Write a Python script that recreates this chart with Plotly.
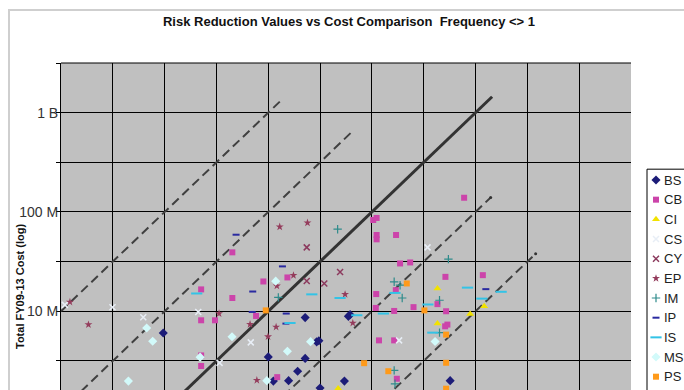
import plotly.graph_objects as go

# ---- data (values in $M) ----
series_names = ["BS", "CB", "CI", "CS", "CY", "EP", "IM", "IP", "IS", "MS", "PS"]

bs_x = [0.97, 22.7, 29.3, 30.8, 59.3, 61.6, 10.0, 22.7, 19.2, 11.2, 15.7, 31.6, 54.3, 569]
bs_y = [6.04, 8.63, 4.92, 5.05, 8.89, 9.24, 3.47, 3.35, 2.49, 1.98, 2.0, 1.69, 1.98, 2.0]

cb_x = [4.50, 15.3, 8.97, 4.50, 2.25, 2.25, 3.06, 7.62, 2.25, 2.25, 12.2, 776, 103, 111, 111, 111,
        171, 187, 234, 512, 1176, 170, 110, 109, 164, 252, 429, 520, 535, 509, 117, 164, 174]
cb_y = [39.2, 21.9, 19.95, 13.6, 16.6, 8.11, 8.11, 8.97, 3.59, 2.81, 2.17, 139, 83, 87, 58.6, 53,
        58.6, 30.3, 31, 22.2, 23.1, 16.3, 14.9, 10.8, 10.07, 11.0, 11.8, 10.0, 7.34, 7.05, 5.09, 5.09, 2.09]

ci_x = [47.2, 429, 1211, 887, 429]
ci_y = [1.67, 16.9, 11.2, 9.4, 7.51]

cs_x = [0.314, 0.622, 2.11, 6.78, 3.39, 344, 183, 0.109]
cs_y = [10.96, 8.7, 9.84, 4.86, 3.02, 44, 5.09, 11.6]

cy_x = [23.5, 23.5, 34.7, 49.3]
cy_y = [44, 20.2, 19.05, 24.9]

ep_x = [0.122, 0.184, 12.9, 23.9, 17.5, 12.1, 3.35, 6.67, 11.9, 9.95, 7.76, 55.1, 65.4]
ep_y = [12.4, 7.34, 70.9, 77.8, 23.0, 18.0, 9.48, 7.39, 6.94, 5.55, 2.02, 14.8, 7.62]

im_x = [46.7, 12.5, 547, 164, 187, 196, 449, 449, 164, 167]
im_y = [67.0, 13.8, 33.5, 19.8, 18.3, 13.6, 12.9, 6.09, 2.54, 1.86]

ip_x = [4.89, 13.7, 7.08, 7.0, 14.9, 14.8, 1257]
ip_y = [59, 28.3, 15.8, 9.84, 9.48, 7.51, 16.7]

is_x = [2.04, 26.3, 49.3, 16.2, 167, 836, 1766, 1151, 347, 129, 71.5, 387]
is_y = [15.1, 14.8, 13.6, 7.62, 15.3, 17.3, 15.7, 13.4, 11.7, 9.48, 9.12, 6.09]

ms_x = [0.671, 0.767, 0.447, 11.8, 4.47, 25.6, 15.3, 2.20, 9.68, 407]
ms_y = [6.78, 4.98, 1.98, 20.1, 5.53, 4.94, 3.96, 3.45, 2.0, 4.96]

ps_x = [9.46, 217, 321, 520, 84.1, 520, 144, 520]
ps_y = [10.2, 19.05, 10.2, 5.82, 3.0, 3.03, 2.49, 1.66]

# reference lines: cost = factor * risk reduction value
line_factors = [100, 10, 1, 0.1, 0.01]
line_x_start = [0.1, 0.1, 0.1, 0.1, 0.1]
line_x_end = [13.9, 64.4, 1445, 1400, 3800]

y_tick_vals = [3.1623, 10, 31.623, 100, 316.23, 1000, 3162.3]
y_tick_text = ["", "10 M", "", "100 M", "", "1 B", ""]
x_grid_vals = [0.1, 0.31623, 1, 3.1623, 10, 31.623, 100, 316.23, 1000, 3162.3, 10000]

# ---- styles ----
styles = {
    "BS": dict(symbol="diamond", color="#1c1c78", size=7),
    "CB": dict(symbol="square", color="#cc44aa", size=6),
    "CI": dict(symbol="triangle-up", color="#f2e200", size=7),
    "CS": dict(symbol="x-thin-open", color="#e8eef6", size=6, lw=1.5),
    "CY": dict(symbol="x-thin-open", color="#8c3a5e", size=6, lw=1.5),
    "EP": dict(symbol="star", color="#943c5c", size=6),
    "IM": dict(symbol="cross-thin-open", color="#2e8b8b", size=6, lw=1.2),
    "IP": dict(symbol="line-ew-open", color="#2a2aa0", size=5, lw=2),
    "IS": dict(symbol="line-ew-open", color="#33c3e6", size=8, lw=2),
    "MS": dict(symbol="diamond", color="#d2fafa", size=7),
    "PS": dict(symbol="square", color="#ff9a1a", size=6),
}
data = {
    "BS": (bs_x, bs_y), "CB": (cb_x, cb_y), "CI": (ci_x, ci_y), "CS": (cs_x, cs_y),
    "CY": (cy_x, cy_y), "EP": (ep_x, ep_y), "IM": (im_x, im_y), "IP": (ip_x, ip_y),
    "IS": (is_x, is_y), "MS": (ms_x, ms_y), "PS": (ps_x, ps_y),
}

def marker_of(st):
    m = dict(symbol=st["symbol"], size=st["size"], color=st["color"])
    if "lw" in st:
        m["line"] = dict(color=st["color"], width=st["lw"])
    else:
        m["line"] = dict(width=0)
    return m

fig = go.Figure()

# reference lines
for f, xs, xe in zip(line_factors, line_x_start, line_x_end):
    solid = (f == 1)
    fig.add_trace(go.Scatter(
        x=[xs, xe], y=[xs * f, xe * f],
        mode="lines" if f >= 1 else "lines+markers",
        line=dict(color="#333333" if solid else "#404040", width=3 if solid else 2,
                  dash="solid" if solid else "9px,5px"),
        marker=dict(size=3, color="#333333"),
        showlegend=False, hoverinfo="skip",
    ))

# series
for name in series_names:
    xs, ys = data[name]
    fig.add_trace(go.Scatter(x=xs, y=ys, mode="markers", name=name,
                             marker=marker_of(styles[name]), showlegend=False))

# figure fills the whole window (page margin removed in post_script)
W, H = 684, 390
L, T = 61, 63
main_w = 570
paper_w = W - L

# hand-drawn legend on an auxiliary axis (x in figure pixels, y in entry index)
leg_idx = list(range(len(series_names)))
for i, name in zip(leg_idx, series_names):
    st = styles[name]
    fig.add_trace(go.Scatter(x=[656], y=[i], mode="markers", marker=marker_of(st),
                             xaxis="x2", yaxis="y2", showlegend=False, hoverinfo="skip"))
annotations = []
for i, name in zip(leg_idx, series_names):
    annotations.append(dict(x=662, y=i, xref="x2", yref="y2", text=name, showarrow=False,
                            xanchor="left", yanchor="middle",
                            font=dict(family="Liberation Sans, Arial", size=13, color="#222222")))

annotations.append(dict(x=(20 - L) / paper_w, y=(H - 287) / (H - T), xref="paper", yref="paper",
                        text="<b>Total FY09-13 Cost (log)</b>", textangle=-90, showarrow=False,
                        xanchor="center", yanchor="middle",
                        font=dict(family="Liberation Sans, Arial", size=11, color="#111111")))

fig.update_layout(
    width=W, height=H,
    margin=dict(l=L, r=0, t=T, b=0, pad=0, autoexpand=False),
    paper_bgcolor="white", plot_bgcolor="rgba(0,0,0,0)",
    title=dict(text="<b>Risk Reduction Values vs Cost Comparison  Frequency &lt;&gt; 1</b>",
               x=349 / W, y=1 - 21 / H, xanchor="center", yanchor="middle",
               font=dict(family="Liberation Sans, Arial", size=13, color="#111111")),
    xaxis=dict(type="log", range=[-1, 4.5], domain=[0, main_w / paper_w],
               tickvals=x_grid_vals, showticklabels=False, ticks="",
               showgrid=True, gridcolor="black", gridwidth=1, zeroline=False,
               showline=False, fixedrange=True),
    yaxis=dict(type="log", range=[0.207, 3.5], domain=[0, 1],
               tickvals=y_tick_vals, ticktext=y_tick_text, ticks="outside", ticklen=4,
               ticklabelstandoff=-5,
               tickcolor="black", tickwidth=1,
               tickfont=dict(family="Liberation Sans, Arial", size=14, color="#333333"),
               showgrid=True, gridcolor="black", gridwidth=1, zeroline=False,
               showline=True, linecolor="black", linewidth=1, fixedrange=True),
    xaxis2=dict(domain=[(640 - L) / paper_w, 1], range=[640, 684], anchor="y2",
                visible=False, fixedrange=True),
    yaxis2=dict(domain=[0, 1], range=[10.676, -5.948], anchor="x2",
                visible=False, fixedrange=True),
    annotations=annotations,
    shapes=[
        # plot area fill
        dict(type="rect", xref="x domain", yref="y domain", x0=0, x1=1, y0=0, y1=1,
             fillcolor="#c0c0c0", line=dict(width=0), layer="below"),
        # top border of plot area
        dict(type="line", xref="x domain", yref="y domain", x0=0, x1=1, y0=1, y1=1,
             line=dict(color="black", width=1), layer="above"),
        # chart outer border
        dict(type="rect", xref="paper", yref="paper", x0=(9 - L) / paper_w, x1=1.3,
             y0=-0.5, y1=(H - 10) / (H - T),
             line=dict(color="#cfcfcf", width=2), fillcolor="rgba(0,0,0,0)", layer="below"),
        # legend box
        dict(type="rect", xref="x2", yref="y2", x0=647, x1=720, y0=-0.55, y1=14,
             line=dict(color="black", width=1), fillcolor="white", layer="below"),
    ],
    showlegend=False,
)

fig.write_html(
    "out.html",
    config={"displayModeBar": False},
    post_script=("document.body.style.margin='0';"
                 "document.documentElement.style.overflow='hidden';"
                 "document.body.style.overflow='hidden';"),
)
